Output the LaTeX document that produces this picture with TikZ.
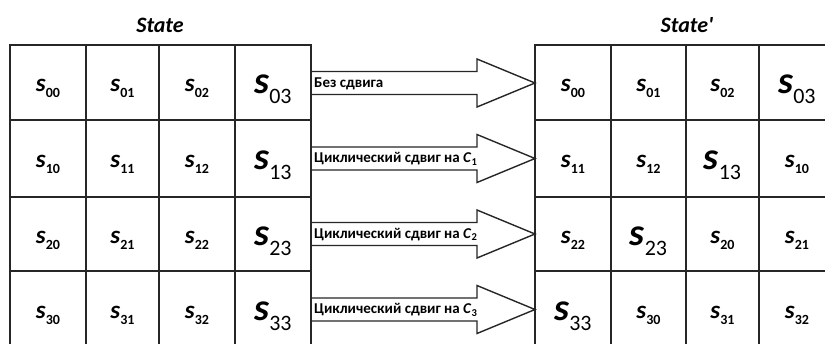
\documentclass[tikz,border=0pt]{standalone}
\usepackage{fontspec}
\setmainfont{Carlito}
\usetikzlibrary{calc}

% state entries: small and enlarged
\newcommand{\sml}[1]{{\fontsize{25}{25}\selectfont\bfseries\itshape s}\raisebox{-6pt}{\fontsize{14}{14}\selectfont\bfseries #1}}
\newcommand{\bgs}[1]{{\fontsize{38}{38}\selectfont\bfseries\itshape s}\raisebox{-10pt}{\fontsize{22}{22}\selectfont #1}}
\newcommand{\shiftby}[1]{\textit{C}\textsubscript{#1}}

\tikzset{
  gridline/.style={line width=1.8pt, black!85},
  shiftarrow/.style={line width=1.4pt, black!85, fill=white},
  shiftlabel/.style={anchor=west, inner sep=0pt, font=\fontsize{15}{15}\selectfont\bfseries},
  gridtitle/.style={font=\fontsize{22}{22}\selectfont\bfseries\itshape},
}

\begin{document}
\begin{tikzpicture}[x=1pt, y=-1pt]
                \clip (0,0) rectangle (825,343);
                % titles
                \node[gridtitle] (tState) at (160,25) {State};
                \node[gridtitle] (tStateP) at (687,25) {State\textquotesingle};
                % block arrows between the grids
                \foreach \r/\yc/\txt in {0/83/{Без сдвига},1/158.5/{Циклический сдвиг на \shiftby{1}},2/234/{Циклический сдвиг на \shiftby{2}},3/309.5/{Циклический сдвиг на \shiftby{3}}}{
                    \draw[shiftarrow] (311,\yc-11.5) -- (477,\yc-11.5) -- (477,\yc-24) -- (535,\yc)
                        -- (477,\yc+24) -- (477,\yc+11.5) -- (311,\yc+11.5);
                    \node[shiftlabel] (a\r) at (314,\yc+0.5) {\txt};
                }
                % left grid
                \draw[gridline] (10,45) rectangle (311,347);
                \foreach \x in {86,159,235} \draw[gridline] (\x,45) -- (\x,347);
                \foreach \y in {120,197,271} \draw[gridline] (10,\y) -- (311,\y);
                % right grid
                \draw[gridline] (535,45) rectangle (835,347);
                \foreach \x in {611,686,759} \draw[gridline] (\x,45) -- (\x,347);
                \foreach \y in {120,197,271} \draw[gridline] (535,\y) -- (835,\y);
                % entries
                \foreach \r/\yc in {0/82.5,1/158.5,2/234,3/309}{
                    \foreach \c/\xc in {0/48,1/122.5,2/197}
                        \node (L\r\c) at (\xc,\yc+6) {\sml{\r\c}};
                    \node (L\r3) at (273,\yc+7) {\bgs{\r3}};
                    \foreach \c/\xc in {0/573,1/648.5,2/722.5,3/797}{
                        \pgfmathtruncatemacro\j{mod(\c+\r,4)}
                        \ifnum\j=3
                            \node (R\r\c) at (\xc,\yc+7) {\bgs{\r\j}};
                        \else
                            \node (R\r\c) at (\xc,\yc+6) {\sml{\r\j}};
                        \fi
                    }
                }
            \end{tikzpicture}
\end{document}
